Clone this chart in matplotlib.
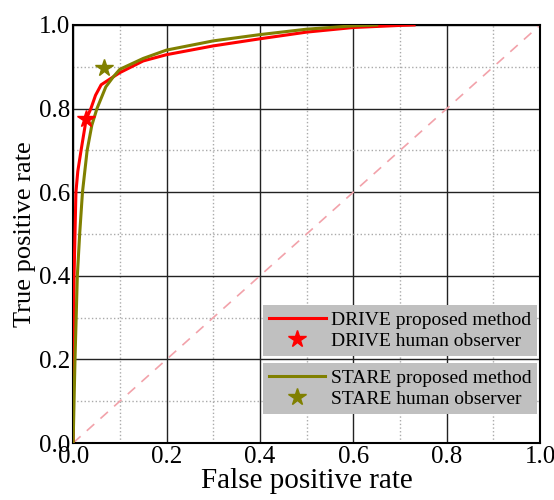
import matplotlib.pyplot as plt
from matplotlib.ticker import MultipleLocator

# ROC curves
drive_fpr = [0, 0.001, 0.002, 0.004, 0.006, 0.01, 0.017, 0.028, 0.038, 0.048, 0.06,
             0.086, 0.1, 0.15, 0.2, 0.3, 0.4, 0.5, 0.6, 0.7, 0.73]
drive_tpr = [0, 0.2, 0.4, 0.5, 0.6, 0.65, 0.7, 0.775, 0.8, 0.832, 0.857,
             0.876, 0.886, 0.914, 0.929, 0.95, 0.967, 0.983, 0.994, 0.999, 1.0]

stare_fpr = [0, 0.002, 0.004, 0.009, 0.014, 0.02, 0.03, 0.04, 0.051, 0.07,
             0.086, 0.1, 0.15, 0.2, 0.3, 0.4, 0.5, 0.6, 0.65]
stare_tpr = [0, 0.1, 0.2, 0.4, 0.5, 0.6, 0.7, 0.76, 0.8, 0.852,
             0.876, 0.894, 0.92, 0.94, 0.962, 0.977, 0.99, 0.998, 1.0]

# human observers
drive_human = (0.027, 0.776)
stare_human = (0.066, 0.896)

diag = [0, 1]

plt.rcParams['font.family'] = ['Liberation Serif', 'DejaVu Serif']

red = '#ff0000'
olive = '#808000'

fig = plt.figure(figsize=(5.54, 5.0), dpi=100)
ax = fig.add_axes([0.132, 0.114, 0.843, 0.836])

ax.plot(diag, diag, color='#f2a2aa', linestyle=(0, (6, 5)), linewidth=1.2, zorder=2)

l1, = ax.plot(drive_fpr, drive_tpr, color=red, linewidth=2.2, zorder=4)
s1, = ax.plot(*drive_human, marker='*', color=red, markersize=13, linestyle='none', zorder=5)
l2, = ax.plot(stare_fpr, stare_tpr, color=olive, linewidth=2.2, zorder=4)
s2, = ax.plot(*stare_human, marker='*', color=olive, markersize=13, linestyle='none', zorder=5)

ax.set_xlim(0, 1)
ax.set_ylim(0, 1)
ax.xaxis.set_major_locator(MultipleLocator(0.2))
ax.yaxis.set_major_locator(MultipleLocator(0.2))
ax.xaxis.set_minor_locator(MultipleLocator(0.1))
ax.yaxis.set_minor_locator(MultipleLocator(0.1))
ax.grid(which='major', color='#222222', linestyle='-', linewidth=1.0, zorder=1)
ax.grid(which='minor', color='#aaaaaa', linestyle=':', linewidth=1.0, zorder=1)
ax.set_axisbelow(True)
ax.tick_params(which='both', length=0, labelsize=18, pad=2)
for sp in ax.spines.values():
    sp.set_linewidth(1.5)

ax.set_xlabel('False positive rate', fontsize=21, labelpad=0)
ax.set_ylabel('True positive rate', fontsize=19, labelpad=2)

leg_kw = dict(loc='upper right', fontsize=14, frameon=True, fancybox=False,
              facecolor='#c0c0c0', edgecolor='none', framealpha=1.0,
              borderaxespad=0, handlelength=2.9, handletextpad=0.3,
              labelspacing=0.2, borderpad=0.3)
leg1 = ax.legend([l1, s1], ['DRIVE proposed method', 'DRIVE human observer'],
                 bbox_to_anchor=(0.994, 0.33), **leg_kw)
ax.add_artist(leg1)
ax.legend([l2, s2], ['STARE proposed method', 'STARE human observer'],
          bbox_to_anchor=(0.994, 0.191), **leg_kw)

fig.savefig('out.png', dpi=100)
